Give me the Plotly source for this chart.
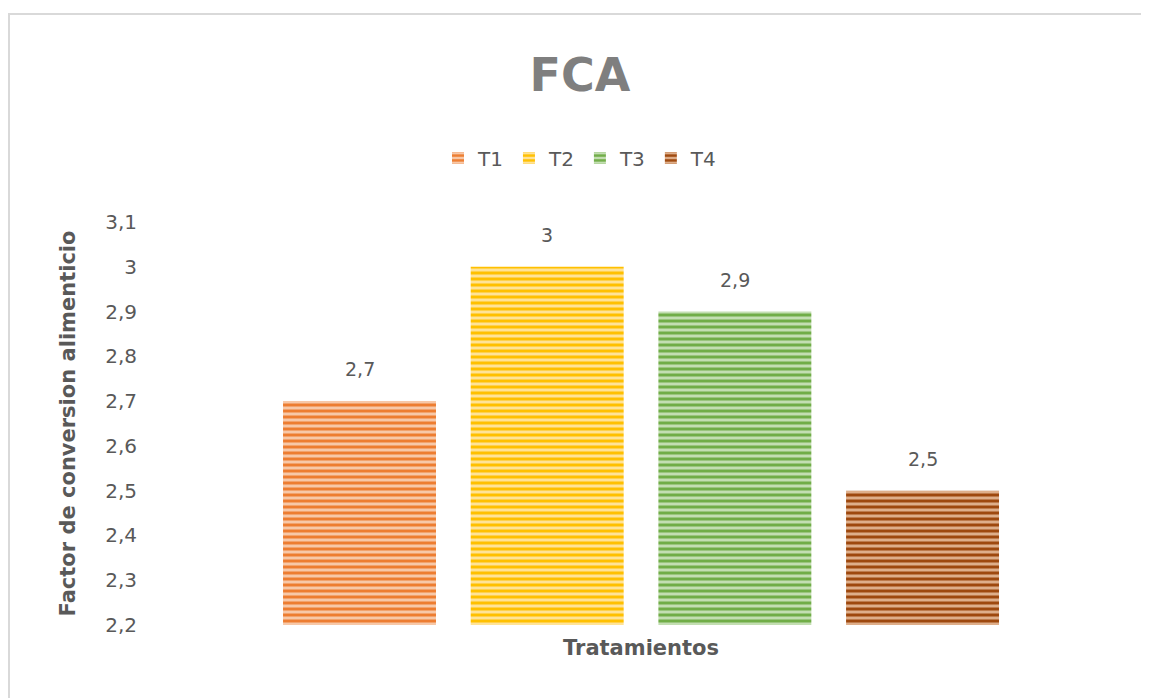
import plotly.graph_objects as go

# datos del grafico FCA
eje_x = "Tratamientos"
tratamientos = ["T1", "T2", "T3", "T4"]
fca = [2.7, 3.0, 2.9, 2.5]
colores = ["#ED7D31", "#FFC000", "#70AD47", "#9E480E"]
claros = ["#F7C8A8", "#FFE397", "#C3DEB2", "#DEAE8A"]

W, H = 1149, 698
L, R, T, B = 132, 16, 214, 81
pw, ph = W - L - R, H - T - B
fuente = "DejaVu Sans, sans-serif"
gris = "#595959"

fig = go.Figure()

for i, (nombre, valor, c, c2) in enumerate(zip(tratamientos, fca, colores, claros)):
    fig.add_trace(go.Bar(
        x=[i],
        y=[valor],
        name=nombre,
        width=0.815,
        marker=dict(
            color=c,
            line=dict(width=0),
            pattern=dict(shape="-", fgcolor=c, bgcolor=c2, size=6, solidity=0.5, fillmode="replace"),
        ),
    ))
    # etiqueta de datos con coma decimal
    fig.add_annotation(x=i, y=valor, text=f"{valor:g}".replace(".", ","),
                       showarrow=False, yanchor="bottom", yshift=19,
                       font=dict(family=fuente, size=19, color=gris))

# borde del area del grafico
fig.add_shape(type="rect", xref="paper", yref="paper",
              x0=(1 - L) / pw, x1=1.05,
              y0=-(B + 20) / ph, y1=(H - B - 6) / ph,
              line=dict(color="#D9D9D9", width=2), fillcolor="rgba(0,0,0,0)", layer="below")

fig.update_layout(
    width=W, height=H,
    margin=dict(l=L, r=R, t=T, b=B),
    paper_bgcolor="white", plot_bgcolor="white",
    font=dict(family=fuente, color=gris),
    separators=", ",
    title=dict(text="<b>FCA</b>", x=572 / W, xanchor="center",
               y=1 - 67 / H, yanchor="middle",
               font=dict(family=fuente, size=46, color="#7F7F7F")),
    showlegend=True,
    legend=dict(orientation="h", x=(572 - L) / pw, xanchor="center",
                y=(H - B - 150) / ph, yanchor="middle",
                font=dict(family=fuente, size=20, color=gris), itemwidth=30,
                traceorder="normal"),
    barmode="overlay",
    xaxis=dict(range=[-1.1696, 4.164], tickvals=[1.5], ticktext=[eje_x],
               showline=False, showgrid=False, zeroline=False, ticks="",
               tickfont=dict(family=fuente, size=21, color=gris, weight="bold"),
               ticklabelstandoff=8),
    yaxis=dict(range=[2.2, 3.1], dtick=0.1, tick0=2.2, showgrid=False, zeroline=False,
               showline=False, ticks="", tickfont=dict(family=fuente, size=20, color=gris),
               ticklabelstandoff=2,
               title=dict(text="<b>Factor de conversion alimenticio</b>",
                          font=dict(family=fuente, size=21, color=gris), standoff=23)),
)

fig.write_html("out.html")
